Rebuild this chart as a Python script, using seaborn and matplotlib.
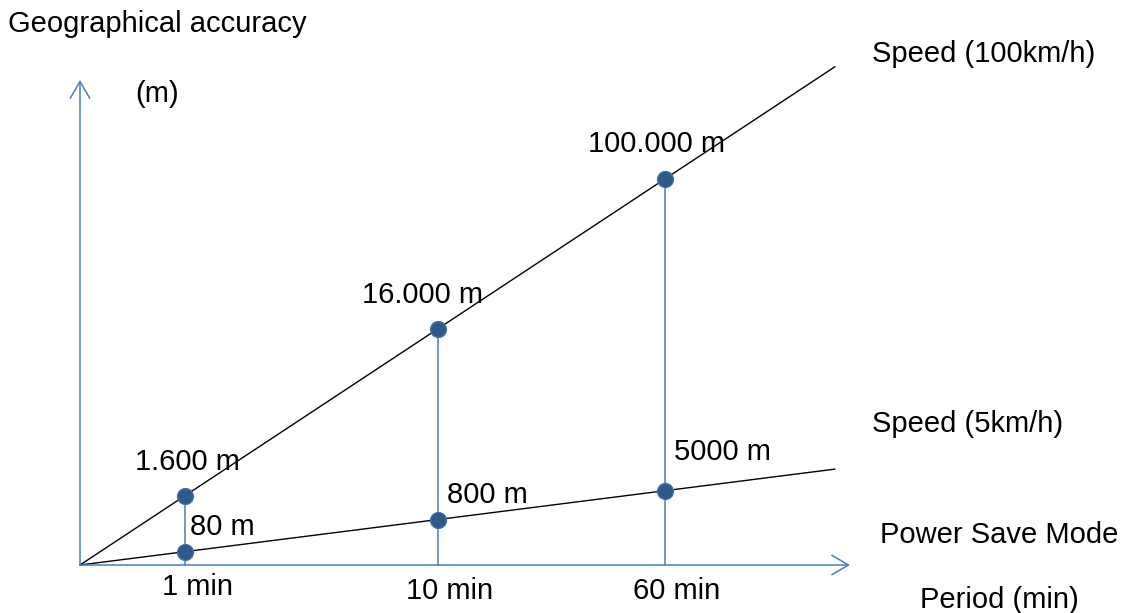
import matplotlib
matplotlib.use("Agg")
import matplotlib.pyplot as plt
import seaborn as sns
import pandas as pd

# schematic chart: positions are not to scale, only the labels carry the values
periods = ["1 min", "10 min", "60 min"]
period_pos = [1.05, 3.58, 5.85]          # where each period sits on the time axis
fast_labels = ["1.600 m", "16.000 m", "100.000 m"]
slow_labels = ["80 m", "800 m", "5000 m"]
fast_slope = 0.66                        # Speed (100km/h)
slow_slope = 0.127                       # Speed (5km/h)
line_end = 7.55

fast_pts = pd.DataFrame({"x": period_pos, "y": [fast_slope * p for p in period_pos]})
slow_pts = pd.DataFrame({"x": period_pos, "y": [slow_slope * p for p in period_pos]})
fast_line = pd.DataFrame({"x": [0, line_end], "y": [0, fast_slope * line_end]})
slow_line = pd.DataFrame({"x": [0, line_end], "y": [0, slow_slope * line_end]})

sns.set_theme(style="white")
plt.rcParams["font.family"] = ["Liberation Sans", "DejaVu Sans"]
plt.rcParams["text.color"] = "black"

fig = plt.figure(figsize=(11.21, 6.13), dpi=100)
ax = fig.add_axes([0, 0, 1, 1])
ax.axis("off")

axis_col = "#4a7ebb"
dot_col = "#2e5a8a"
fs = 21
H = 613

# axes with open arrow heads
arrow = dict(arrowstyle="->,head_length=0.6,head_width=0.35", color=axis_col,
             lw=1.1, mutation_scale=20, shrinkA=0, shrinkB=0)
ax.annotate("", xy=(7.70, 0), xytext=(0, 0), arrowprops=arrow)
ax.annotate("", xy=(0, 4.85), xytext=(0, 0), arrowprops=arrow)

# vertical drop lines
for x, y in zip(fast_pts["x"], fast_pts["y"]):
    ax.plot([x, x], [0, y], color=axis_col, lw=1.1, zorder=1)

sns.lineplot(data=fast_line, x="x", y="y", color="black", lw=1.0, ax=ax, zorder=2)
sns.lineplot(data=slow_line, x="x", y="y", color="black", lw=1.0, ax=ax, zorder=2)
sns.scatterplot(data=fast_pts, x="x", y="y", s=130, color=dot_col,
                edgecolor="#4170a8", linewidth=1.0, ax=ax, zorder=3)
sns.scatterplot(data=slow_pts, x="x", y="y", s=130, color=dot_col,
                edgecolor="#4170a8", linewidth=1.0, ax=ax, zorder=3)
ax.set_xlim(-0.80, 10.41)
ax.set_ylim(-0.48, 5.65)

# value labels (offsets in pixels)
fast_off = [(-50, 34), (-76, 34), (-77, 35)]
slow_off = [(5, 25), (9, 25), (9, 39)]
for (x, y), lab, off in zip(fast_pts.values, fast_labels, fast_off):
    ax.annotate(lab, (x, y), xytext=off, textcoords="offset pixels",
                fontsize=fs, ha="left", va="center")
for (x, y), lab, off in zip(slow_pts.values, slow_labels, slow_off):
    ax.annotate(lab, (x, y), xytext=off, textcoords="offset pixels",
                fontsize=fs, ha="left", va="center")

# period tick labels
for x, lab, dy in zip(period_pos, periods, [-22, -26, -26]):
    ax.annotate(lab, (x, 0), xytext=(12, dy), textcoords="offset pixels",
                fontsize=fs, ha="center", va="center")

# titles and series names (pixel positions from the top-left corner)
for txt, px, py in [("Geographical accuracy", 8, 24), ("(m)", 135, 94),
                    ("Speed (100km/h)", 872, 54), ("Speed (5km/h)", 872, 424),
                    ("Power Save Mode", 880, 535), ("Period (min)", 920, 600)]:
    ax.text(px, H - py, txt, transform=None, fontsize=fs, va="center")

fig.savefig("out.png", dpi=100)
